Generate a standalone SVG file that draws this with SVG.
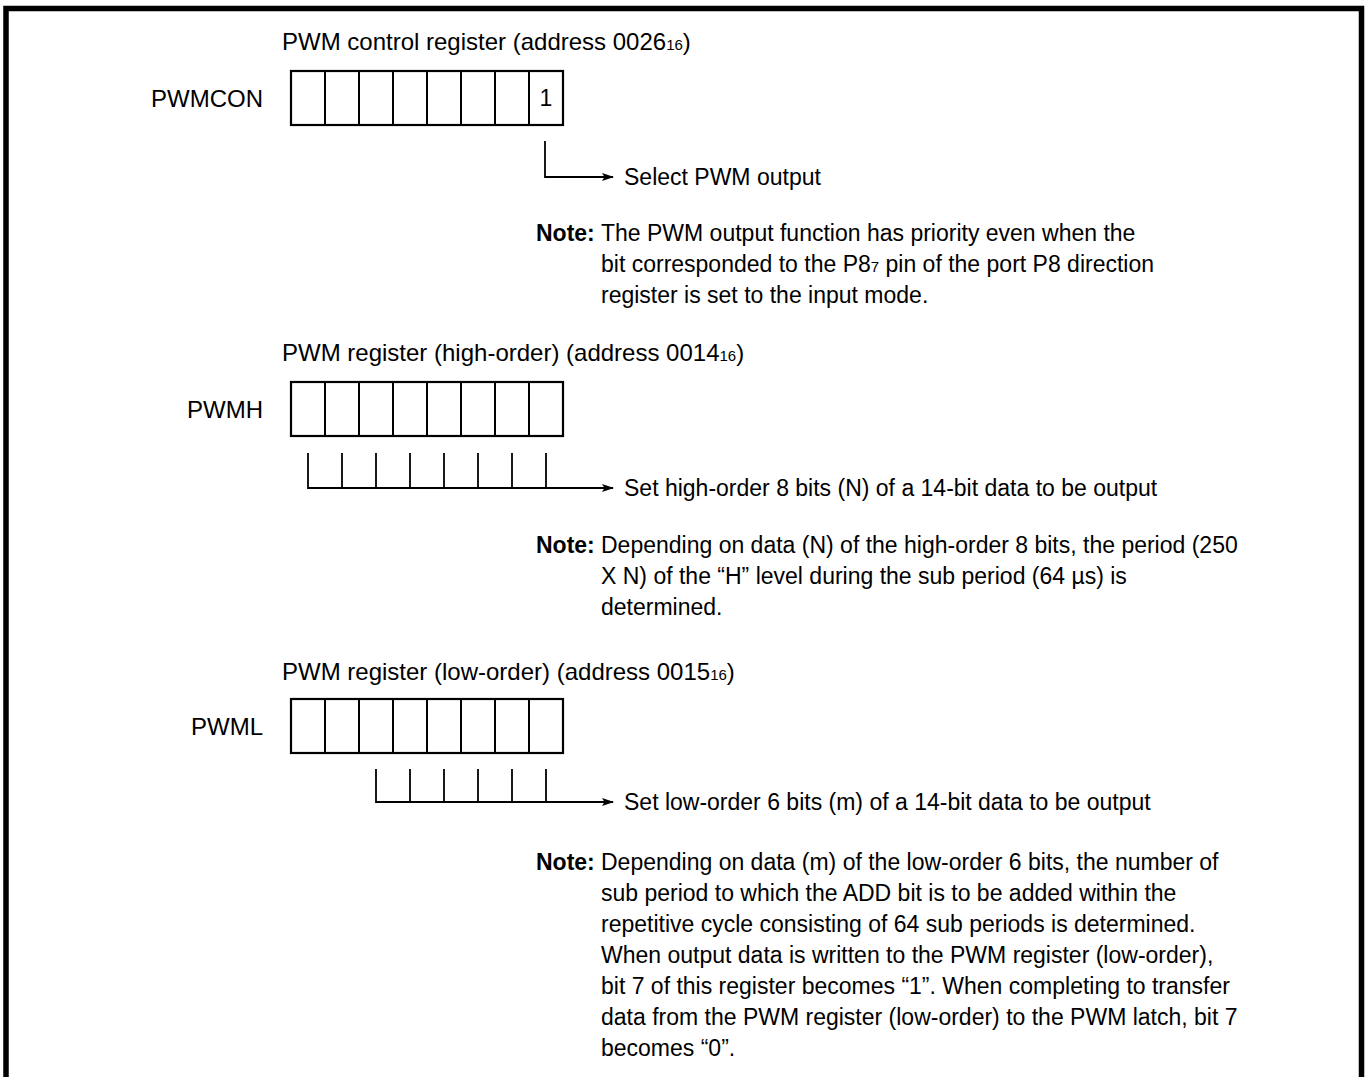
<svg xmlns="http://www.w3.org/2000/svg" width="1368" height="1077" viewBox="0 0 1368 1077">
<style>
text { font-family: "Liberation Sans", Arial, Helvetica, sans-serif; font-size: 23px; fill: #000; }
.b { font-weight: bold; }
.sub { font-size: 15px; }
.ttl { font-size: 24px; }
.lbl { text-anchor: end; font-size: 24px; }
.reg { fill: #fff; stroke: #000; stroke-width: 2.2; }
.div { stroke: #000; stroke-width: 2; }
.con { fill: none; stroke: #000; stroke-width: 1.8; }
.frame { fill: none; stroke: #000; stroke-width: 5.5; }
</style>
<defs>
<marker id="arr" markerWidth="12" markerHeight="8" refX="11" refY="4" orient="auto" markerUnits="userSpaceOnUse">
<path d="M0,0 L12,4 L0,8 L2.5,4 Z" fill="#000"/>
</marker>
<g id="cells">
<line class="div" x1="34" y1="0" x2="34" y2="54"/>
<line class="div" x1="68" y1="0" x2="68" y2="54"/>
<line class="div" x1="102" y1="0" x2="102" y2="54"/>
<line class="div" x1="136" y1="0" x2="136" y2="54"/>
<line class="div" x1="170" y1="0" x2="170" y2="54"/>
<line class="div" x1="204" y1="0" x2="204" y2="54"/>
<line class="div" x1="238" y1="0" x2="238" y2="54"/>
</g>
</defs>
<rect width="1368" height="1077" fill="#fff"/>
<path class="frame" d="M6,1090 V8.5 H1361.5 V1090"/>

<g id="pwmcon">
<text class="ttl" x="282" y="50">PWM control register (address 0026<tspan class="sub">16</tspan>)</text>
<text class="lbl" x="263" y="107">PWMCON</text>
<rect class="reg" x="291" y="71" width="272" height="54"/>
<use href="#cells" x="291" y="71"/>
<text x="546" y="106" text-anchor="middle" font-size="22">1</text>
<text x="624" y="185">Select PWM output</text>
<text class="b" x="536" y="241">Note:</text>
<text x="601" y="241">The PWM output function has priority even when the</text>
<text x="601" y="272">bit corresponded to the P8<tspan class="sub">7</tspan> pin of the port P8 direction</text>
<text x="601" y="303">register is set to the input mode.</text>
</g>

<g id="pwmh">
<text class="ttl" x="282" y="361">PWM register (high-order) (address 0014<tspan class="sub">16</tspan>)</text>
<text class="lbl" x="263" y="418">PWMH</text>
<rect class="reg" x="291" y="382" width="272" height="54"/>
<use href="#cells" x="291" y="382"/>
<text x="624" y="496">Set high-order 8 bits (N) of a 14-bit data to be output</text>
<text class="b" x="536" y="553">Note:</text>
<text x="601" y="553">Depending on data (N) of the high-order 8 bits, the period (250</text>
<text x="601" y="584">X N) of the “H” level during the sub period (64 µs) is</text>
<text x="601" y="615">determined.</text>
</g>

<g id="pwml">
<text class="ttl" x="282" y="680">PWM register (low-order) (address 0015<tspan class="sub">16</tspan>)</text>
<text class="lbl" x="263" y="735">PWML</text>
<rect class="reg" x="291" y="699" width="272" height="54"/>
<use href="#cells" x="291" y="699"/>
<text x="624" y="810">Set low-order 6 bits (m) of a 14-bit data to be output</text>
<text class="b" x="536" y="870">Note:</text>
<text x="601" y="870">Depending on data (m) of the low-order 6 bits, the number of</text>
<text x="601" y="901">sub period to which the ADD bit is to be added within the</text>
<text x="601" y="932">repetitive cycle consisting of 64 sub periods is determined.</text>
<text x="601" y="963">When output data is written to the PWM register (low-order),</text>
<text x="601" y="994">bit 7 of this register becomes “1”. When completing to transfer</text>
<text x="601" y="1025">data from the PWM register (low-order) to the PWM latch, bit 7</text>
<text x="601" y="1056">becomes “0”.</text>
</g>

<g id="connectors">
<path class="con" d="M545,141 V177 H613" marker-end="url(#arr)"/>
<path class="con" d="M308,453 V488 H613" marker-end="url(#arr)"/>
<path class="con" d="M342,453 V488 M376,453 V488 M410,453 V488 M444,453 V488 M478,453 V488 M512,453 V488 M546,453 V488"/>
<path class="con" d="M376,769 V802 H613" marker-end="url(#arr)"/>
<path class="con" d="M410,769 V802 M444,769 V802 M478,769 V802 M512,769 V802 M546,769 V802"/>
</g>
</svg>
